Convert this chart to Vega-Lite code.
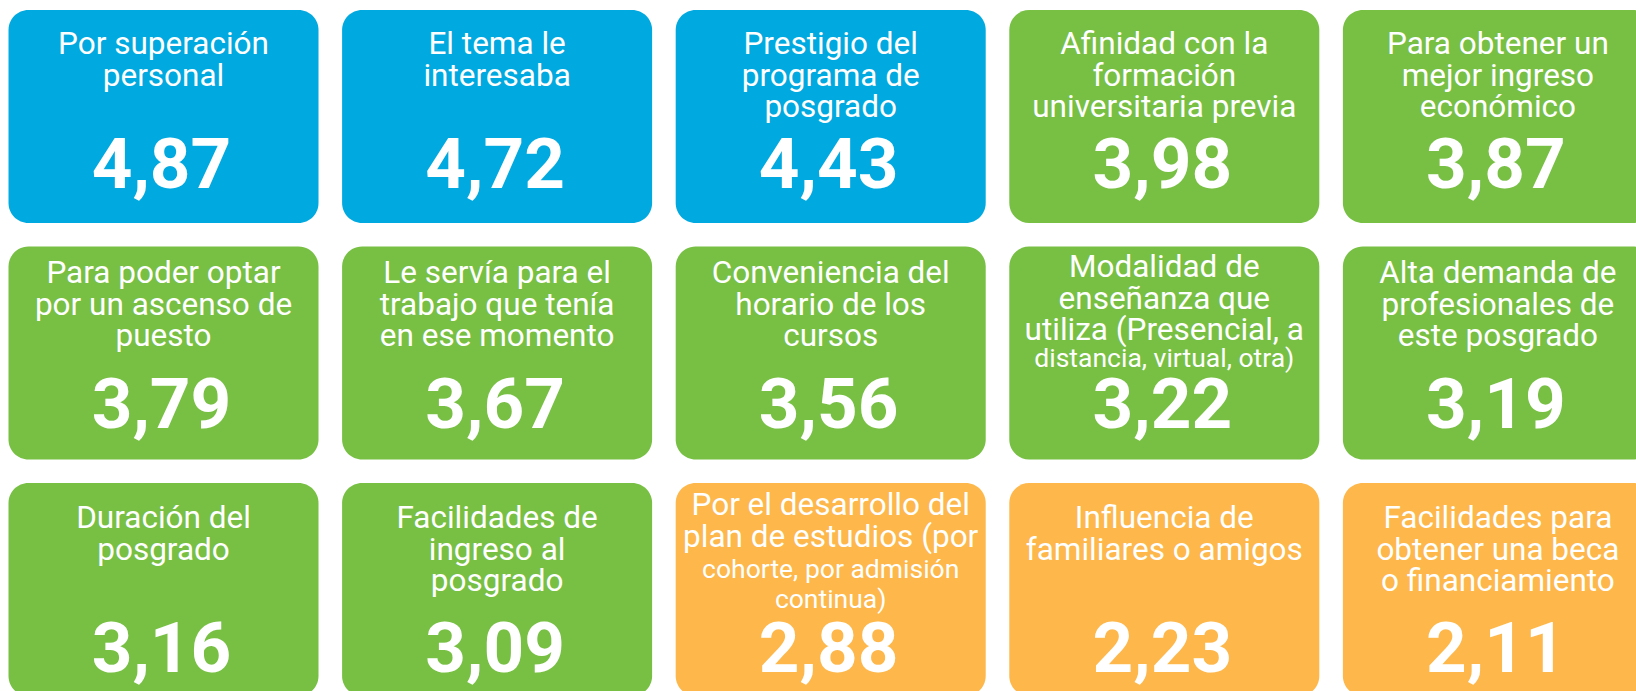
{
  "$schema": "https://vega.github.io/schema/vega-lite/v6.json",
  "width": 1636,
  "height": 691,
  "padding": 0,
  "autosize": {"type": "none"},
  "background": "#ffffff",
  "config": {
    "view": {"stroke": null},
    "locale": {"number": {"decimal": ",", "thousands": ".", "grouping": [3], "currency": ["", " €"]}}
  },
  "data": {
    "values": [
      {"col": 1, "fila": 1, "etiqueta": ["Por superación", "personal"], "valor": 4.87, "grupo": "alto"},
      {"col": 2, "fila": 1, "etiqueta": ["El tema le", "interesaba"], "valor": 4.72, "grupo": "alto"},
      {"col": 3, "fila": 1, "etiqueta": ["Prestigio del", "programa de", "posgrado"], "valor": 4.43, "grupo": "alto"},
      {"col": 4, "fila": 1, "etiqueta": ["Afinidad con la", "formación", "universitaria previa"], "valor": 3.98, "grupo": "medio"},
      {"col": 5, "fila": 1, "etiqueta": ["Para obtener un", "mejor ingreso", "económico"], "valor": 3.87, "grupo": "medio"},
      {"col": 1, "fila": 2, "etiqueta": ["Para poder optar", "por un ascenso de", "puesto"], "valor": 3.79, "grupo": "medio"},
      {"col": 2, "fila": 2, "etiqueta": ["Le servía para el", "trabajo que tenía", "en ese momento"], "valor": 3.67, "grupo": "medio"},
      {"col": 3, "fila": 2, "etiqueta": ["Conveniencia del", "horario de los", "cursos"], "valor": 3.56, "grupo": "medio"},
      {"col": 4, "fila": 2, "etiqueta": ["Modalidad de", "enseñanza que", "utiliza (Presencial, a"], "nota": ["distancia, virtual, otra)"], "valor": 3.22, "grupo": "medio"},
      {"col": 5, "fila": 2, "etiqueta": ["Alta demanda de", "profesionales de", "este posgrado"], "valor": 3.19, "grupo": "medio"},
      {"col": 1, "fila": 3, "etiqueta": ["Duración del", "posgrado"], "valor": 3.16, "grupo": "medio"},
      {"col": 2, "fila": 3, "etiqueta": ["Facilidades de", "ingreso al", "posgrado"], "valor": 3.09, "grupo": "medio"},
      {"col": 3, "fila": 3, "etiqueta": ["Por el desarrollo del", "plan de estudios (por"], "nota": ["cohorte, por admisión", "continua)"], "valor": 2.88, "grupo": "bajo"},
      {"col": 4, "fila": 3, "etiqueta": ["Influencia de", "familiares o amigos"], "valor": 2.23, "grupo": "bajo"},
      {"col": 5, "fila": 3, "etiqueta": ["Facilidades para", "obtener una beca", "o financiamiento"], "valor": 2.11, "grupo": "bajo"}
    ]
  },
  "resolve": {"scale": {"y": "independent"}},
  "layer": [
    {
      "mark": {"type": "rect", "cornerRadius": 20},
      "encoding": {
        "x": {"field": "col", "type": "ordinal", "axis": null, "scale": {"type": "band", "range": [8.5, 1652.9], "paddingInner": 0.0707, "paddingOuter": 0}},
        "y": {"field": "fila", "type": "ordinal", "axis": null, "scale": {"type": "band", "range": [10, 696], "paddingInner": 0.0994, "paddingOuter": 0}},
        "color": {"field": "grupo", "type": "nominal", "legend": null, "scale": {"domain": ["alto", "medio", "bajo"], "range": ["#00A9E0", "#77C043", "#FDB74A"]}}
      }
    },
    {
      "transform": [{"filter": "datum.nota == null"}],
      "mark": {"type": "text", "font": "Roboto", "fontSize": 31.5, "lineHeight": 31.6, "color": "#ffffff", "baseline": "alphabetic", "align": "center"},
      "encoding": {
        "x": {"field": "col", "type": "ordinal", "axis": null, "bandPosition": 0.5, "scale": {"type": "band", "range": [8.5, 1652.9], "paddingInner": 0.0707, "paddingOuter": 0}},
        "y": {"field": "fila", "type": "quantitative", "axis": null, "scale": {"domain": [1, 2, 3], "range": [54, 283, 528], "zero": false, "nice": false}},
        "text": {"field": "etiqueta"}
      }
    },
    {
      "transform": [{"filter": "datum.nota != null"}],
      "mark": {"type": "text", "font": "Roboto", "fontSize": 31.5, "lineHeight": 31.6, "color": "#ffffff", "baseline": "alphabetic", "align": "center"},
      "encoding": {
        "x": {"field": "col", "type": "ordinal", "axis": null, "bandPosition": 0.5, "scale": {"type": "band", "range": [8.5, 1652.9], "paddingInner": 0.0707, "paddingOuter": 0}},
        "y": {"field": "fila", "type": "quantitative", "axis": null, "scale": {"domain": [1, 2, 3], "range": [38, 277, 515], "zero": false, "nice": false}},
        "text": {"field": "etiqueta"}
      }
    },
    {
      "transform": [{"filter": "datum.nota != null"}],
      "mark": {"type": "text", "font": "Roboto", "fontSize": 26.5, "lineHeight": 30, "color": "#ffffff", "baseline": "alphabetic", "align": "center"},
      "encoding": {
        "x": {"field": "col", "type": "ordinal", "axis": null, "bandPosition": 0.5, "scale": {"type": "band", "range": [8.5, 1652.9], "paddingInner": 0.0707, "paddingOuter": 0}},
        "y": {"field": "fila", "type": "quantitative", "axis": null, "scale": {"domain": [1, 2, 3], "range": [156, 367, 578], "zero": false, "nice": false}},
        "text": {"field": "nota"}
      }
    },
    {
      "mark": {"type": "text", "font": "Roboto", "fontSize": 71, "fontWeight": "bold", "color": "#ffffff", "baseline": "alphabetic", "align": "center", "dx": -2},
      "encoding": {
        "x": {"field": "col", "type": "ordinal", "axis": null, "bandPosition": 0.5, "scale": {"type": "band", "range": [8.5, 1652.9], "paddingInner": 0.0707, "paddingOuter": 0}},
        "y": {"field": "fila", "type": "quantitative", "axis": null, "scale": {"domain": [1, 2, 3], "range": [188, 428, 672], "zero": false, "nice": false}},
        "text": {"field": "valor", "type": "quantitative", "format": ".2f"}
      }
    }
  ]
}
